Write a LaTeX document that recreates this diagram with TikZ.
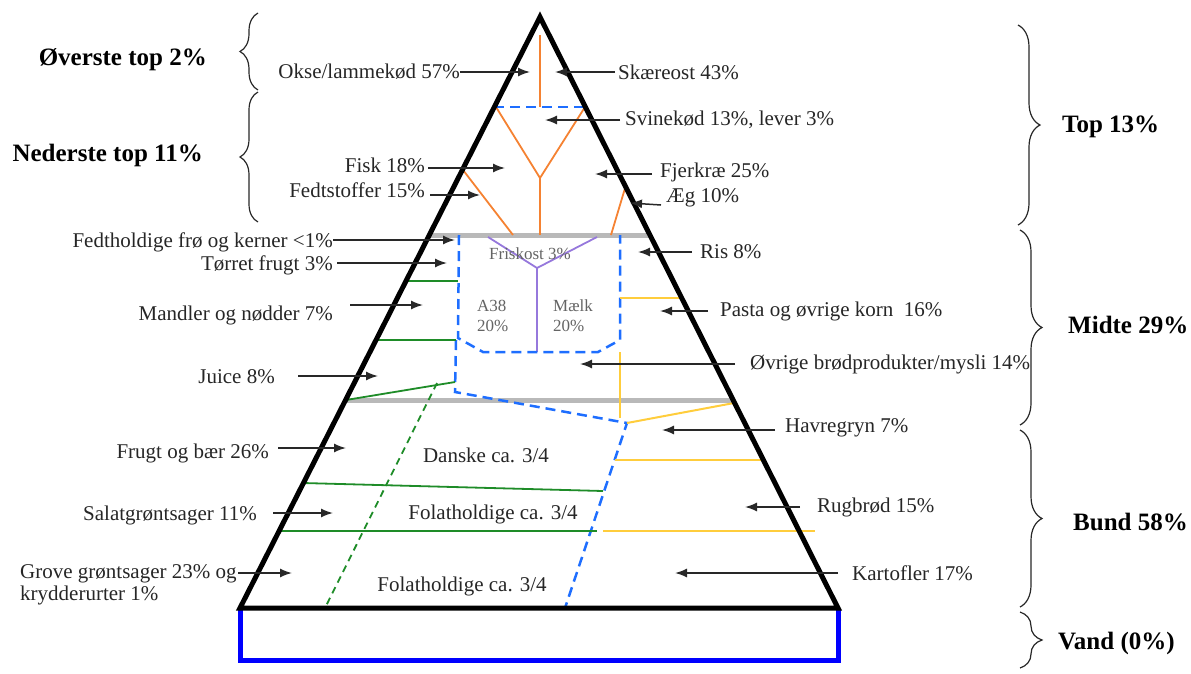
\documentclass[tikz,border=0pt]{standalone}
\usepackage{fontspec}
\setmainfont{Liberation Serif}
\usetikzlibrary{arrows.meta,decorations.pathreplacing}
\definecolor{dblue}{RGB}{30,110,255}
\definecolor{pblue}{RGB}{0,0,255}
\definecolor{ggreen}{RGB}{30,140,40}
\definecolor{oorange}{RGB}{245,130,50}
\definecolor{ppurple}{RGB}{150,120,220}
\definecolor{yyellow}{RGB}{255,205,60}
\definecolor{ggray}{RGB}{185,185,185}
\definecolor{tgray}{RGB}{100,100,100}
\definecolor{agray}{RGB}{40,40,40}
\tikzset{
  tri/.style={line width=5pt,black,line join=miter},
  base/.style={line width=5pt,pblue},
  gline/.style={line width=5pt,ggray},
  bdash/.style={line width=2.5pt,dblue,dash pattern=on 10pt off 6pt},
  gr/.style={line width=1.8pt,ggreen},
  grdash/.style={line width=1.8pt,ggreen,dash pattern=on 7pt off 5pt},
  orl/.style={line width=1.8pt,oorange},
  pul/.style={line width=1.8pt,ppurple},
  yel/.style={line width=2pt,yyellow},
  arr/.style={line width=1.5pt,agray,-{Latex[length=12pt,width=9pt]}},
  lbl/.style={inner sep=0pt,font=\fontsize{21}{23}\selectfont,text=black!85},
  blbl/.style={inner sep=0pt,font=\fontsize{25}{27}\selectfont\bfseries},
  slbl/.style={inner sep=0pt,font=\fontsize{17}{20}\selectfont,text=tgray,align=left},
  brL/.style={decorate,decoration={brace,amplitude=18pt},line width=1.2pt,agray},
  brR/.style={decorate,decoration={brace,amplitude=22pt},line width=1.2pt,agray},
}
\begin{document}
\begin{tikzpicture}[x=1pt,y=-1pt]
\useasboundingbox (0,0) rectangle (1191,673);
% key points
\coordinate (A) at (540,17);
\coordinate (BL) at (240,608);
\coordinate (BR) at (838,608);
\coordinate (RL) at (240,660);
\coordinate (RR) at (838,660);
% gray separator lines
\draw[gline] (430,235) -- (650,235);
\draw[gline] (345,400) -- (733,400);
% orange (top)
\draw[orl] (540,35) -- (540,107);
\draw[orl] (496,107) -- (540,178) -- (585,107);
\draw[orl] (540,178) -- (540,235);
\draw[orl] (463,170) -- (513,235);
\draw[orl] (626,185) -- (611,235);
\draw[bdash] (494,107) -- (586,107);
% purple
\draw[pul] (488,237) -- (537,268) -- (597,237);
\draw[pul] (537,268) -- (537,352);
% blue dashed enclosure
\draw[bdash] (459,235) -- (458,338) -- (483,352) -- (598,352) -- (620,340) -- (620,235);
\draw[bdash] (456,340) -- (455,392) -- (627,423) -- (565,608);
% green
\draw[gr] (406,281) -- (458,281);
\draw[gr] (376,340) -- (456,340);
\draw[gr] (346,400) -- (455,382);
\draw[grdash] (437,383) -- (325,608);
\draw[gr] (303,483) -- (603,491);
\draw[gr] (279,531) -- (597,531);
% yellow
\draw[yel] (620,298) -- (681,298);
\draw[yel] (620,352) -- (620,418);
\draw[yel] (627,423) -- (734,403);
\draw[yel] (615,460) -- (763,460);
\draw[yel] (603,531) -- (815,531);
% pyramid and water base
\draw[base] (BL) -- (RL) -- (RR) -- (BR);
\draw[tri] (BL) -- (A) -- (BR) -- cycle;
% inner labels
\node[slbl] (frisk) at (530,254) {Friskost 3\%};
\node[slbl,anchor=west] (a38) at (477,316) {A38\\20\%};
\node[slbl,anchor=west] (maelk) at (553,316) {Mælk\\20\%};
\node[lbl] (danske) at (486,455) {Danske ca. 3/4};
\node[lbl] (fol1) at (493,514) {Folatholdige ca. 3/4};
\node[lbl] (fol2) at (462,586) {Folatholdige ca. 3/4};
% left labels
\node[lbl,anchor=east] (okse) at (460,72) {Okse/lammekød 57\%};
\node[lbl,anchor=east] (fisk) at (425,165) {Fisk 18\%};
\node[lbl,anchor=east] (fedt) at (425,190) {Fedtstoffer 15\%};
\node[lbl,anchor=east] (froe) at (333,242) {Fedtholdige frø og kerner <1\%};
\node[lbl,anchor=east] (toer) at (333,265) {Tørret frugt 3\%};
\node[lbl,anchor=east] (mand) at (333,315) {Mandler og nødder 7\%};
\node[lbl,anchor=east] (juice) at (275,377) {Juice 8\%};
\node[lbl,anchor=east] (frugt) at (269,453) {Frugt og bær 26\%};
\node[lbl,anchor=east] (salat) at (257,515) {Salatgrøntsager 11\%};
\node[lbl,anchor=north west,align=left] (grove) at (20,564) {Grove grøntsager 23\% og\\[-1pt]krydderurter 1\%};
\coordinate (okseT) at (530,72);
\coordinate (fiskS) at (428,168); \coordinate (fiskT) at (505,168);
\coordinate (fedtS) at (430,195); \coordinate (fedtT) at (480,195);
\coordinate (froeT) at (455,240);
\coordinate (toerS) at (337,263); \coordinate (toerT) at (447,263);
\coordinate (mandS) at (350,305); \coordinate (mandT) at (423,305);
\coordinate (juiceS) at (298,376); \coordinate (juiceT) at (378,376);
\coordinate (frugtS) at (278,448); \coordinate (frugtT) at (346,448);
\coordinate (salatS) at (273,513); \coordinate (salatT) at (333,513);
\coordinate (groveS) at (238,573); \coordinate (groveT) at (292,573);
\draw[arr] (okse.east) -- (okseT);
\draw[arr] (fiskS) -- (fiskT);
\draw[arr] (fedtS) -- (fedtT);
\draw[arr] (froe.east |- froeT) -- (froeT);
\draw[arr] (toerS) -- (toerT);
\draw[arr] (mandS) -- (mandT);
\draw[arr] (juiceS) -- (juiceT);
\draw[arr] (frugtS) -- (frugtT);
\draw[arr] (salatS) -- (salatT);
\draw[arr] (groveS) -- (groveT);
% right labels
\node[lbl,anchor=west] (skaere) at (618,72) {Skæreost 43\%};
\node[lbl,anchor=west] (svin) at (625,120) {Svinekød 13\%, lever 3\%};
\node[lbl,anchor=west] (fjer) at (660,172) {Fjerkræ 25\%};
\node[lbl,anchor=west] (aeg) at (666,198) {Æg 10\%};
\node[lbl,anchor=west] (ris) at (700,252) {Ris 8\%};
\node[lbl,anchor=west] (pasta) at (720,311) {Pasta og øvrige korn\ \ 16\%};
\node[lbl,anchor=west] (oevr) at (750,364) {Øvrige brødprodukter/mysli 14\%};
\node[lbl,anchor=west] (havre) at (785,428) {Havregryn 7\%};
\node[lbl,anchor=west] (rug) at (817,507) {Rugbrød 15\%};
\node[lbl,anchor=west] (kart) at (852,573) {Kartofler 17\%};
\coordinate (skaereS) at (615,72); \coordinate (skaereT) at (555,72);
\coordinate (svinS) at (620,120); \coordinate (svinT) at (545,120);
\coordinate (fjerS) at (652,174); \coordinate (fjerT) at (595,174);
\coordinate (aegS) at (661,205); \coordinate (aegT) at (630,203);
\coordinate (risS) at (692,252); \coordinate (risT) at (638,252);
\coordinate (pastaS) at (708,311); \coordinate (pastaT) at (660,311);
\coordinate (oevrS) at (735,364); \coordinate (oevrT) at (580,364);
\coordinate (havreS) at (775,430); \coordinate (havreT) at (662,430);
\coordinate (rugS) at (800,507); \coordinate (rugT) at (745,507);
\coordinate (kartS) at (838,573); \coordinate (kartT) at (675,573);
\draw[arr] (skaereS) -- (skaereT);
\draw[arr] (svinS) -- (svinT);
\draw[arr] (fjerS) -- (fjerT);
\draw[arr] (aegS) -- (aegT);
\draw[arr] (risS) -- (risT);
\draw[arr] (pastaS) -- (pastaT);
\draw[arr] (oevrS) -- (oevrT);
\draw[arr] (havreS) -- (havreT);
\draw[arr] (rugS) -- (rugT);
\draw[arr] (kartS) -- (kartT);
% left braces and labels
\draw[brL] (258,90) -- (258,13);
\draw[brL] (258,222) -- (258,92);
\node[blbl,anchor=east] (overst) at (207,60) {Øverste top 2\%};
\node[blbl,anchor=east] (nederst) at (203,155) {Nederste top 11\%};
% right braces and labels
\draw[brR] (1018,25) -- (1018,225);
\draw[brR] (1020,230) -- (1020,425);
\draw[brR] (1020,430) -- (1020,607);
\draw[brR] (1020,612) -- (1020,668);
\node[blbl,anchor=west] (top) at (1062,127) {Top 13\%};
\node[blbl,anchor=west] (midte) at (1068,325) {Midte 29\%};
\node[blbl,anchor=west] (bund) at (1073,522) {Bund 58\%};
\node[blbl,anchor=west] (vand) at (1058,643) {Vand (0\%)};
\end{tikzpicture}
\end{document}
